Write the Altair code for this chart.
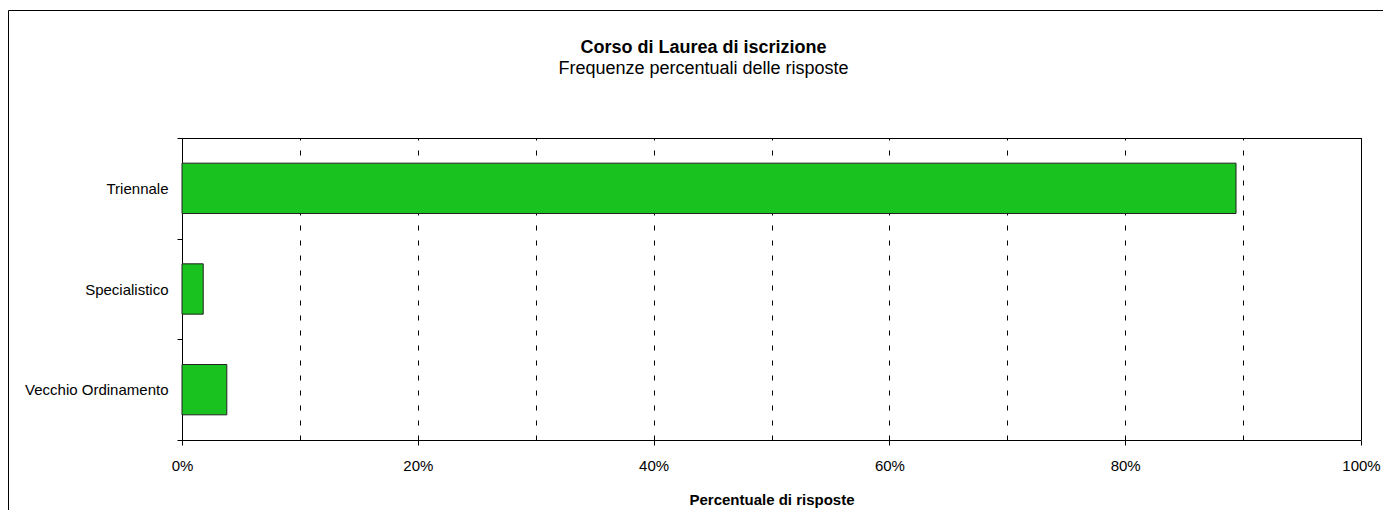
import altair as alt
import pandas as pd

categories = ["Triennale", "Specialistico", "Vecchio Ordinamento"]
values = [89.4, 1.8, 3.8]
x_ticks = [0, 10, 20, 30, 40, 50, 60, 70, 80, 90, 100]

df = pd.DataFrame({"corso": categories, "perc": values})
FONT = "Liberation Sans"
FS = 15

bars = alt.Chart(df).mark_bar(
    color="#19c21f", stroke="#222222", strokeWidth=1, height={"band": 0.5}
).encode(
    y=alt.Y(
        "corso:N",
        sort=categories,
        scale=alt.Scale(paddingInner=0, paddingOuter=0),
        axis=alt.Axis(
            title=None,
            tickBand="extent",
            tickSize=5,
            tickColor="black",
            domainColor="black",
            labelPadding=9,
            labelFontSize=FS,
            labelColor="black",
            labelFont=FONT,
        ),
    ),
    x=alt.X(
        "perc:Q",
        scale=alt.Scale(domain=[0, 100], nice=False),
        axis=alt.Axis(
            title="Percentuale di risposte",
            titleFont=FONT,
            titleFontSize=FS,
            titleFontWeight="bold",
            titleColor="black",
            titlePadding=19,
            values=x_ticks,
            labelExpr="datum.value % 20 === 0 ? datum.value + '%' : ''",
            labelFlush=False,
            labelFontSize=FS,
            labelFont=FONT,
            labelColor="black",
            labelPadding=13,
            tickSize=5,
            tickColor="black",
            tickOpacity={"condition": {"test": "datum.value % 20 === 0", "value": 1}, "value": 0},
            domainColor="black",
            grid=True,
            gridColor="black",
            gridDash=[5, 10],
            gridWidth=1,
            gridOpacity={"condition": {"test": "datum.value === 0 || datum.value === 100", "value": 0}, "value": 1},
        ),
    ),
)

frame_data = pd.DataFrame({"k": [0]})
frame_left = alt.Chart(frame_data).mark_rule(color="black", strokeWidth=1).encode(
    x=alt.value(-173.5), y=alt.value(-127.5), y2=alt.value(400)
)
frame_top = alt.Chart(frame_data).mark_rule(color="black", strokeWidth=1).encode(
    x=alt.value(-173.5), x2=alt.value(1250), y=alt.value(-127.5)
)
plot_top = alt.Chart(frame_data).mark_rule(color="black", strokeWidth=1).encode(
    x=alt.value(0), x2=alt.value(1179.5), y=alt.value(0.5)
)
plot_right = alt.Chart(frame_data).mark_rule(color="black", strokeWidth=1).encode(
    x=alt.value(1179.5), y=alt.value(0), y2=alt.value(302)
)

chart = alt.layer(frame_left, frame_top, plot_top, plot_right, bars).properties(
    width=1179,
    height=302,
    autosize=alt.AutoSizeParams(type="none"),
    padding={"left": 174, "top": 130, "right": 22, "bottom": 70},
    title=alt.TitleParams(
        "Corso di Laurea di iscrizione",
        subtitle="Frequenze percentuali delle risposte",
        anchor="middle",
        font=FONT,
        fontSize=18,
        fontWeight="bold",
        color="black",
        subtitleFont=FONT,
        subtitleFontSize=18,
        subtitleColor="black",
        subtitlePadding=3,
        dx=-68,
        offset=-68,
    ),
).configure_view(stroke=None).configure(background="white")

chart.save("out.html", embed_options={"renderer": "svg", "actions": False})
